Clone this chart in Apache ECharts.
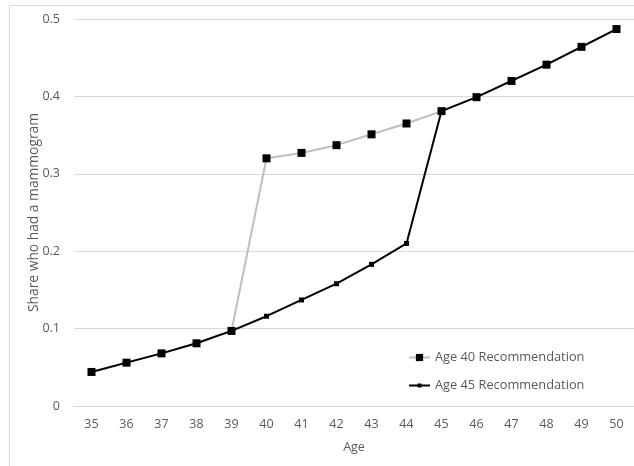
<!DOCTYPE html>
<html>
<head>
<meta charset="utf-8">
<script src="https://cdn.jsdelivr.net/npm/echarts@6/dist/echarts.min.js"></script>
<style>
  html, body { margin: 0; padding: 0; background: #ffffff; }
  #chart { width: 634px; height: 466px; }
</style>
</head>
<body>
<div id="chart"></div>
<script>
const ages = ['35','36','37','38','39','40','41','42','43','44','45','46','47','48','49','50'];
const age40Rec = [0.044, 0.056, 0.068, 0.081, 0.097, 0.320, 0.327, 0.337, 0.351, 0.365, 0.381, 0.399, 0.420, 0.441, 0.464, 0.487];
const age45Rec = [0.044, 0.056, 0.068, 0.081, 0.097, 0.116, 0.137, 0.158, 0.183, 0.210, 0.381, 0.399, 0.420, 0.441, 0.464, 0.487];
const yTicks = [0, 0.1, 0.2, 0.3, 0.4, 0.5];
const seriesNames = ['Age 40 Recommendation', 'Age 45 Recommendation'];

const FONT = 'Open Sans';
const legendText = { color: '#595959', fontFamily: FONT, fontSize: 12.8 };
const chart = echarts.init(document.getElementById('chart'), null, { renderer: 'canvas' });
chart.setOption({
  animation: false,
  backgroundColor: '#ffffff',
  graphic: [{
    type: 'rect', silent: true, z: -1,
    shape: { x: 9.5, y: 5.5, width: 700, height: 600 },
    style: { fill: 'none', stroke: '#d9d9d9', lineWidth: 1 }
  }],
  grid: { left: 74, top: 19, width: 562, bottom: 60 },
  legend: [
    {
      orient: 'vertical', left: 408, top: 351, padding: 0,
      itemWidth: 21, itemHeight: 9,
      textStyle: legendText,
      data: [seriesNames[0]]
    },
    {
      orient: 'vertical', left: 408, top: 379, padding: 0,
      itemWidth: 21, itemHeight: 5,
      textStyle: legendText,
      data: [seriesNames[1]]
    }
  ],
  xAxis: {
    type: 'category',
    data: ages,
    boundaryGap: true,
    name: 'Age',
    nameLocation: 'middle',
    nameGap: 35,
    nameTextStyle: { color: '#595959', fontFamily: FONT, fontSize: 12.5 },
    axisLine: { show: true, lineStyle: { color: '#d9d9d9' } },
    axisTick: { show: false },
    axisLabel: { color: '#595959', fontFamily: FONT, fontSize: 12.5, margin: 12 }
  },
  yAxis: {
    type: 'value',
    min: yTicks[0], max: yTicks[yTicks.length - 1], interval: 0.1,
    name: 'Share who had a mammogram',
    nameLocation: 'middle',
    nameGap: 33,
    nameMoveOverlap: false,
    nameTextStyle: { color: '#595959', fontFamily: FONT, fontSize: 13.8 },
    axisLine: { show: false },
    axisTick: { show: false },
    splitLine: { lineStyle: { color: '#d9d9d9', width: 1 } },
    axisLabel: { color: '#595959', fontFamily: FONT, fontSize: 12.5, margin: 14,
      formatter: v => (v === 0 ? '0' : String(Math.round(v * 10) / 10)) }
  },
  series: [
    {
      name: seriesNames[0],
      type: 'line',
      data: age40Rec,
      symbol: 'rect',
      symbolSize: 8,
      lineStyle: { color: '#bfbfbf', width: 2 },
      itemStyle: { color: '#000000' }
    },
    {
      name: seriesNames[1],
      type: 'line',
      data: age45Rec,
      symbol: 'rect',
      symbolSize: 5,
      lineStyle: { color: '#000000', width: 2 },
      itemStyle: { color: '#000000' }
    }
  ]
});
</script>
</body>
</html>
